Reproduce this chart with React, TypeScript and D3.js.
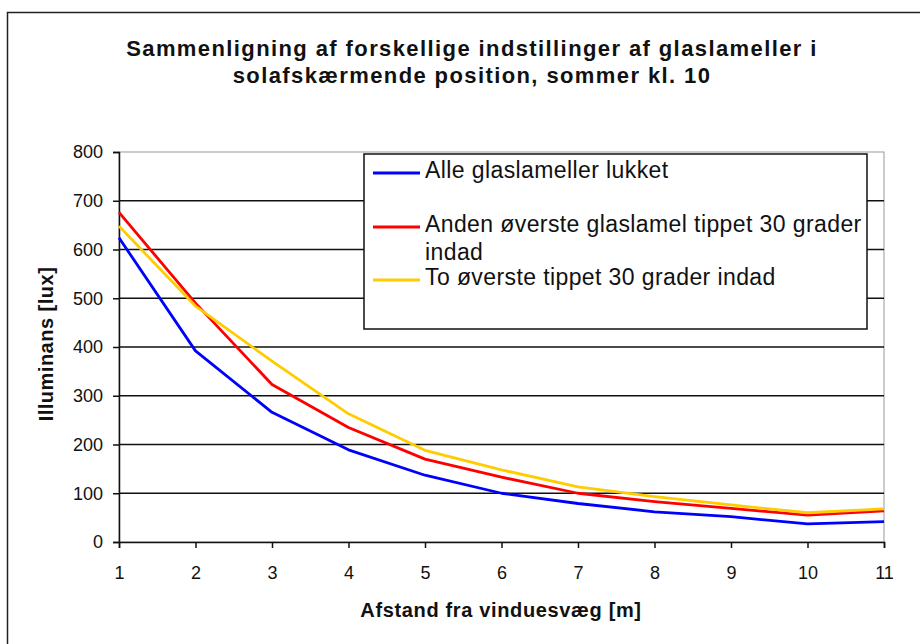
import React, { useEffect, useRef } from 'react';
import * as d3 from 'd3';

// afstand fra vinduesvæg [m]
const distances = [1, 2, 3, 4, 5, 6, 7, 8, 9, 10, 11];
const alleLukket = [624, 392, 266, 189, 137, 100, 79, 62, 52, 37, 42];
const andenOverste = [676, 490, 323, 235, 170, 133, 100, 83, 69, 55, 64];
const toOverste = [648, 484, 371, 263, 188, 148, 113, 93, 76, 60, 68];
const yTicks = [0, 100, 200, 300, 400, 500, 600, 700, 800];

const seriesNames = [
  'Alle glaslameller lukket',
  'Anden øverste glaslamel tippet 30 grader|indad',
  'To øverste tippet 30 grader indad',
];
const seriesColors = ['#0000ff', '#ff0000', '#ffcc00'];

const App = () => {
  const chart = useRef<SVGSVGElement>(null);

  useEffect(() => {
    const svg = d3.select(chart.current);
    svg.selectAll('*').remove();
    const font = '"Liberation Sans", Arial, sans-serif';

    const left = 119, right = 884, top = 152, bottom = 542;
    const x = d3.scaleLinear().domain([1, 11]).range([left, right]);
    const y = d3.scaleLinear().domain([0, 800]).range([bottom, top]);

    // outer frame
    svg.append('rect')
      .attr('x', 7.5).attr('y', 12.5).attr('width', 930).attr('height', 650)
      .attr('fill', 'white').attr('stroke', '#222').attr('stroke-width', 1.5);

    // title
    const title = svg.append('text')
      .attr('text-anchor', 'middle')
      .attr('font-family', font).attr('font-size', 22).attr('font-weight', 'bold')
      .attr('letter-spacing', 1.4).attr('fill', '#111');
    title.append('tspan').attr('x', 472).attr('y', 56)
      .text('Sammenligning af forskellige indstillinger af glaslameller i');
    title.append('tspan').attr('x', 472).attr('y', 83)
      .text('solafskærmende position, sommer kl. 10');

    // plot area border
    svg.append('rect')
      .attr('x', left).attr('y', top).attr('width', right - left).attr('height', bottom - top)
      .attr('fill', 'none').attr('stroke', '#999').attr('stroke-width', 1);

    // gridlines
    svg.append('g').selectAll('line')
      .data(yTicks.filter(d => d > 0 && d < 800))
      .enter().append('line')
      .attr('x1', left).attr('x2', right)
      .attr('y1', d => y(d)).attr('y2', d => y(d))
      .attr('stroke', '#111').attr('stroke-width', 1.5);

    // y axis
    const yAxis = svg.append('g')
      .attr('transform', `translate(${left},0)`)
      .call(d3.axisLeft(y).tickValues(yTicks).tickSize(6).tickPadding(10));
    yAxis.select('.domain').attr('stroke', '#111').attr('stroke-width', 1.5);
    yAxis.selectAll('line').attr('stroke', '#111').attr('stroke-width', 1.5);
    yAxis.selectAll('text').attr('font-family', font).attr('font-size', 18).attr('fill', '#111');

    // x axis
    const xAxis = svg.append('g')
      .attr('transform', `translate(0,${bottom})`)
      .call(d3.axisBottom(x).tickValues(distances).tickFormat(d3.format('d')).tickSize(6).tickPadding(18));
    xAxis.select('.domain').attr('stroke', '#111').attr('stroke-width', 1.5);
    xAxis.selectAll('line').attr('stroke', '#111').attr('stroke-width', 1.5);
    xAxis.selectAll('text').attr('font-family', font).attr('font-size', 18).attr('fill', '#111');

    // axis titles
    svg.append('text')
      .attr('x', 501).attr('y', 617).attr('text-anchor', 'middle')
      .attr('font-family', font).attr('font-size', 20).attr('font-weight', 'bold')
      .attr('letter-spacing', 0.65).attr('fill', '#111')
      .text('Afstand fra vinduesvæg [m]');
    svg.append('text')
      .attr('transform', 'translate(53,344) rotate(-90)').attr('text-anchor', 'middle')
      .attr('font-family', font).attr('font-size', 20).attr('font-weight', 'bold')
      .attr('letter-spacing', 0.5).attr('fill', '#111')
      .text('Illuminans [lux]');

    // lines
    const line = d3.line<number>().x((d, i) => x(distances[i])).y(d => y(d));
    [alleLukket, andenOverste, toOverste].forEach((values, i) => {
      svg.append('path')
        .datum(values)
        .attr('d', line)
        .attr('fill', 'none')
        .attr('stroke', seriesColors[i])
        .attr('stroke-width', 2.8)
        .attr('stroke-linejoin', 'round');
    });

    // legend
    const lg = svg.append('g');
    lg.append('rect')
      .attr('x', 364).attr('y', 154).attr('width', 503).attr('height', 175)
      .attr('fill', 'white').attr('stroke', '#111').attr('stroke-width', 1.5);
    const rowY = [173, 227, 280];
    seriesNames.forEach((name, i) => {
      lg.append('line')
        .attr('x1', 373).attr('x2', 420)
        .attr('y1', rowY[i]).attr('y2', rowY[i])
        .attr('stroke', seriesColors[i]).attr('stroke-width', 3);
      const t = lg.append('text')
        .attr('font-family', font).attr('font-size', 23).attr('letter-spacing', 0.4).attr('fill', '#111');
      name.split('|').forEach((part, j) => {
        t.append('tspan').attr('x', 425).attr('y', rowY[i] + 5 + j * 28).text(part);
      });
    });
  }, []);

  return (
    <svg ref={chart} width={920} height={644} style={{ position: 'absolute', left: 0, top: 0 }} />
  );
};

export default App;
